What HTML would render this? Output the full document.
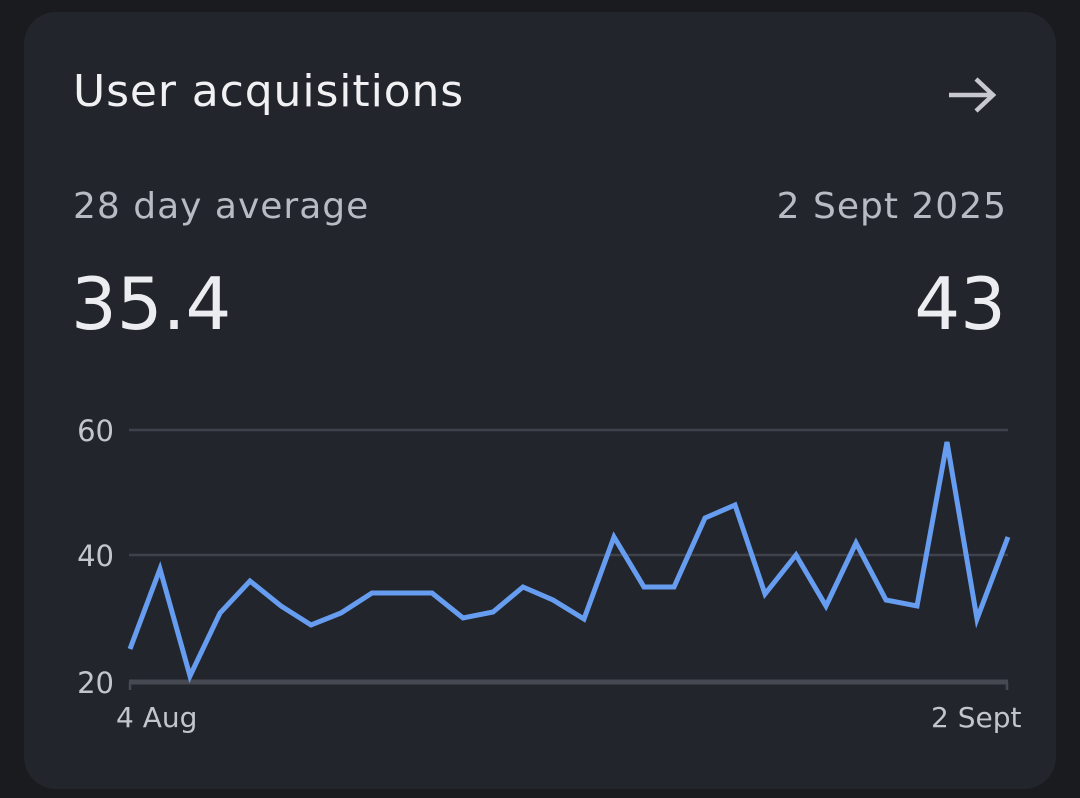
<!DOCTYPE html>
<html><head><style>
body{margin:0;width:1080px;height:798px;background:#1a1b1f;overflow:hidden;font-family:"DejaVu Sans","Liberation Sans",sans-serif}
.card{position:absolute;left:24px;top:12px;width:1032px;height:777px;background:#22252c;border-radius:32px}
.t{position:absolute;white-space:nowrap}
</style></head><body>
<div class="card"></div>
<div class="t" style="left:73px;top:66px;font-size:44px;letter-spacing:0.9px;color:#f1f1f4">User acquisitions</div>
<svg class="t" style="left:945px;top:76px" width="54" height="40"><path d="M4 19 H48 M31 3 L48 19 L31 35" stroke="#c7c8d0" stroke-width="4.5" fill="none"/></svg>
<div class="t" style="left:73px;top:186px;font-size:36px;letter-spacing:1px;color:#b9bbc4">28 day average</div>
<div class="t" style="right:73px;top:186px;font-size:36px;letter-spacing:1px;color:#b9bbc4">2 Sept 2025</div>
<div class="t" style="left:71px;top:262px;font-size:72px;color:#ecedf1">35.4</div>
<div class="t" style="right:74px;top:262px;font-size:72px;color:#ecedf1">43</div>
<svg class="t" style="left:0;top:0" width="1080" height="798">
<g stroke="#3f424b" stroke-width="2.5"><line x1="129" y1="430" x2="1008" y2="430"/><line x1="129" y1="555" x2="1008" y2="555"/></g>
<g stroke="#464952" stroke-width="5"><line x1="129" y1="682" x2="1008" y2="682"/></g>
<g stroke="#464952" stroke-width="2.5"><line x1="130" y1="682" x2="130" y2="690"/><line x1="1007" y1="682" x2="1007" y2="690"/></g>
<g font-size="29" fill="#c3c5cd" font-family="DejaVu Sans,sans-serif">
<text x="114" y="441" text-anchor="end">60</text>
<text x="114" y="566" text-anchor="end">40</text>
<text x="114" y="693" text-anchor="end">20</text>
<text x="116" y="727" font-size="28">4 Aug</text>
<text x="931" y="727" font-size="28">2 Sept</text>
</g>
<polyline fill="none" stroke="#669df0" stroke-width="5" stroke-linejoin="miter" points="130,649 160,569 190,676 220,613 250,581 281,606 311,625 341,613 372,593 402,593 432,593 463,618 493,612 523,587 553,600 584,619 614,537 644,587 674,587 705,518 735,505 765,594 796,555 826,606 856,543 886,600 917,606 947,442 977,619 1008,537"/>
</svg>
</body></html>
